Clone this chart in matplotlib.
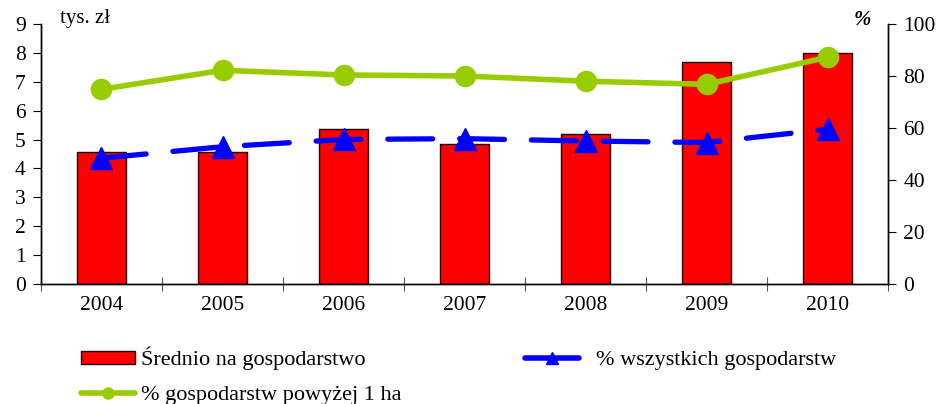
import matplotlib
matplotlib.use("Agg")
import matplotlib.pyplot as plt
import numpy as np
from matplotlib.lines import Line2D
from matplotlib.patches import Patch

years = ["2004", "2005", "2006", "2007", "2008", "2009", "2010"]
avg_per_farm = [4.56, 4.56, 5.35, 4.84, 5.18, 7.67, 7.98]        # tys. zł
pct_all_farms = [48.4, 52.8, 55.6, 55.9, 55.0, 54.4, 59.5]       # %
pct_farms_over_1ha = [74.9, 82.2, 80.4, 80.0, 78.0, 76.8, 87.2]  # %

label_bar = "Średnio na gospodarstwo"
label_blue = "% wszystkich gospodarstw"
label_green = "% gospodarstw powyżej 1 ha"

plt.rcParams['font.family'] = ['Liberation Serif', 'DejaVu Serif']
plt.rcParams['font.size'] = 15.5

fig = plt.figure(figsize=(9.41, 4.04), dpi=100)
ax = fig.add_axes([41/941, 1-284/404, (888-41)/941, (284-24)/404])
ax2 = ax.twinx()

x = np.arange(len(years))
red = "#FF0000"
green = "#99CC00"
blue = "#0000FF"

ax.bar(x, avg_per_farm, width=0.41, color=red, edgecolor="#200000", linewidth=1.0, zorder=2)
ax.set_xlim(-0.5, len(years)-0.5)
ax.set_ylim(0, 9)
ax.set_yticks(range(0, 10))
ax.set_xticks(np.arange(-0.5, len(years), 1.0))
ax.set_xticklabels([])
ax.set_xticks(x, minor=True)
ax.set_xticklabels(years, minor=True)
ax.tick_params(axis='x', which='major', direction='inout', length=10, width=0.8, color='#555555')
ax.tick_params(axis='x', which='minor', length=0, pad=9)
ax.tick_params(axis='y', direction='out', length=6, width=0.8, pad=5)

ax2.set_ylim(0, 100)
ax2.set_yticks(range(0, 101, 20))
ax2.tick_params(axis='y', direction='out', length=6, width=0.8, pad=5)

ax2.plot(x, pct_farms_over_1ha, color=green, lw=4.0, marker='o', markersize=14.5,
         solid_capstyle='round', zorder=3)
bl, = ax2.plot(x, pct_all_farms, color=blue, lw=3.8, marker='^', markersize=15.5,
               dash_capstyle='round', zorder=4)
bl.set_dashes((8.5, 5.1))

for a in (ax, ax2):
    a.spines['top'].set_visible(False)
    for s in ('left', 'right', 'bottom'):
        a.spines[s].set_linewidth(1.0)

fig.text(60/941, 1-19/404, "tys. zł", ha='left', va='center', fontsize=15)
fig.text(862/941, 1-20/404, "%", ha='center', va='center', fontsize=15,
         fontweight='bold', fontstyle='italic')

h_bar = Patch(facecolor=red, edgecolor="#200000", linewidth=1.0)
h_green = Line2D([], [], color=green, lw=4.0, marker='o', markersize=8,
                 solid_capstyle='round')
h_blue = Line2D([], [], color=blue, lw=4.0, marker='^', markersize=9,
                linestyle='-', solid_capstyle='round')

leg_kw = dict(loc='upper left', frameon=False, borderpad=0, borderaxespad=0,
              handlelength=2.45, handleheight=0.5, fontsize=16)
leg1 = fig.legend([h_bar, h_green], [label_bar, label_green],
                  bbox_to_anchor=(81/941, 1-347/404), handletextpad=0.25,
                  labelspacing=0.7, **leg_kw)
leg2 = fig.legend([h_blue], [label_blue],
                  bbox_to_anchor=(525/941, 1-351/404), handletextpad=0.75,
                  labelspacing=0.7, **leg_kw)

fig.savefig("out.png", dpi=100)
